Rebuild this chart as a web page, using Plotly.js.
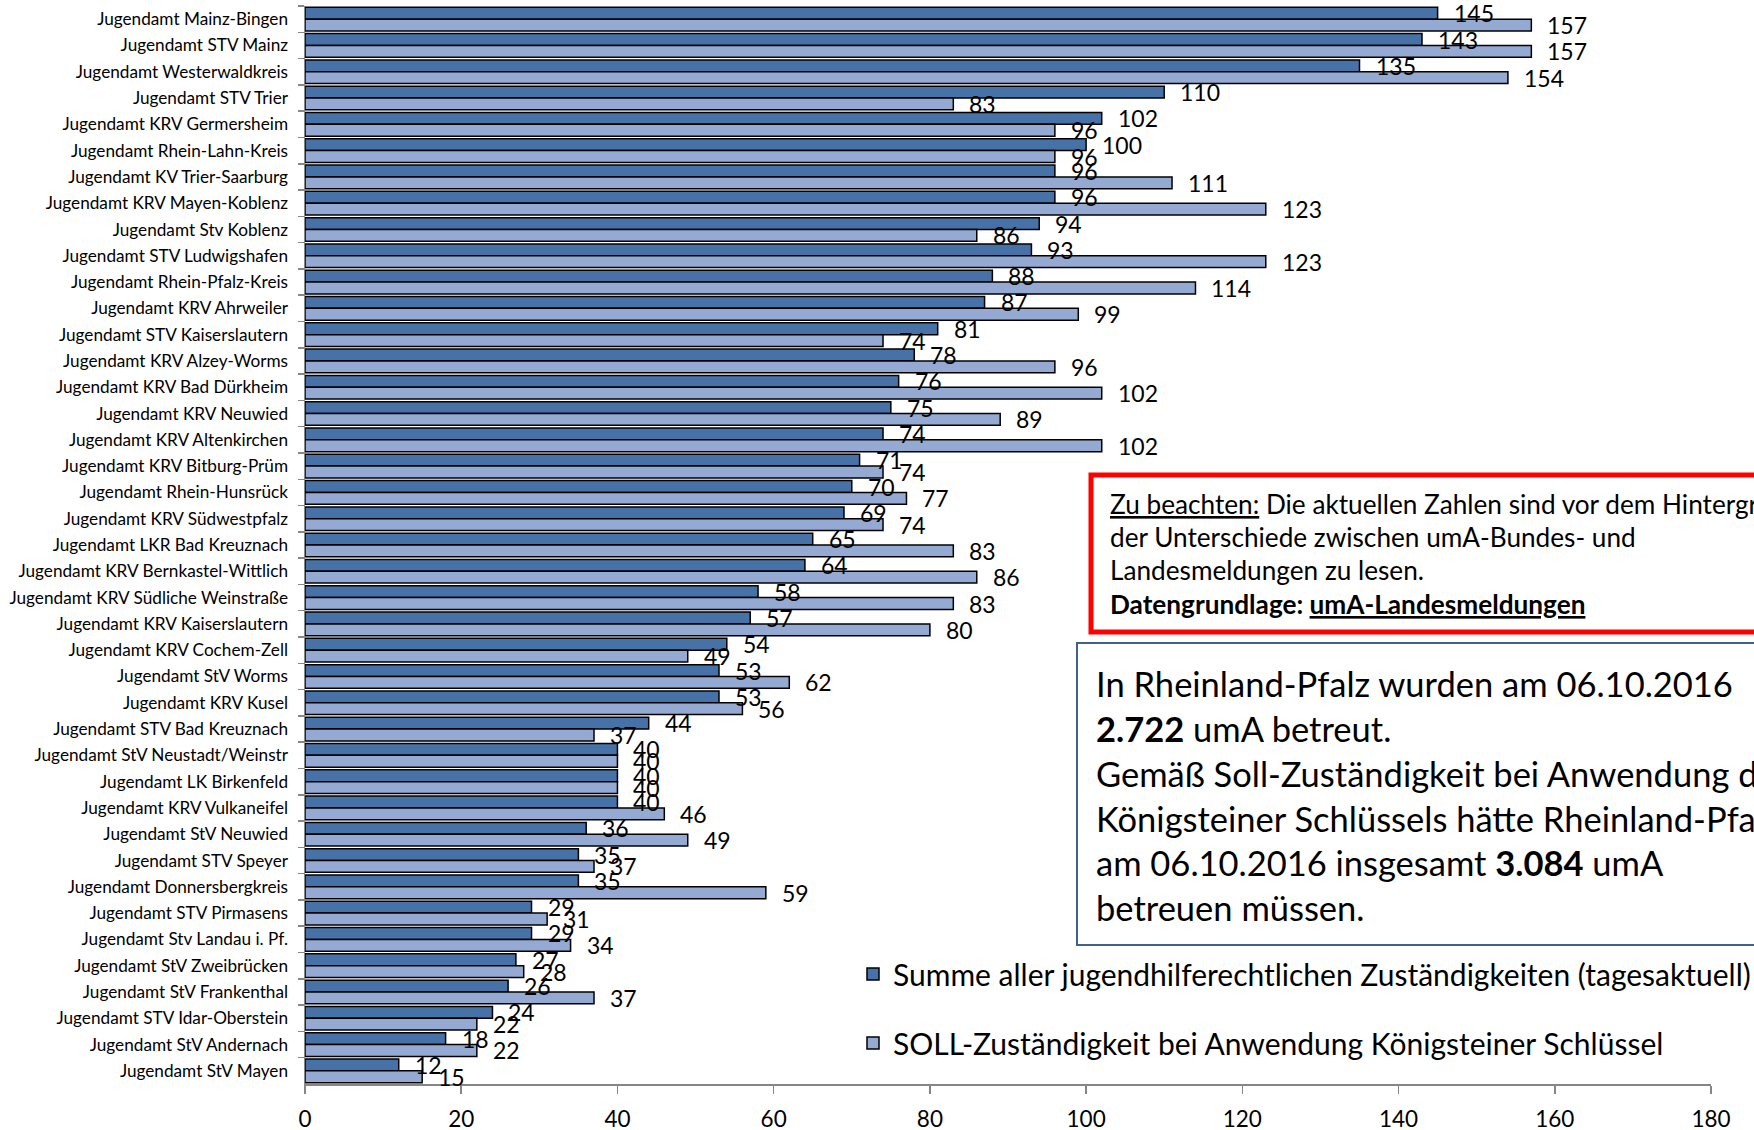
<!DOCTYPE html>
<html>
<head>
<meta charset="utf-8">
<script src="https://cdn.plot.ly/plotly-3.0.1.min.js"></script>
<style>html,body{margin:0;padding:0;background:#fff;}#chart{width:1754px;height:1130px;}</style>
</head>
<body>
<div id="chart"></div>
<script>
const categories = [
  "Jugendamt Mainz-Bingen","Jugendamt STV Mainz","Jugendamt Westerwaldkreis","Jugendamt STV Trier",
  "Jugendamt KRV Germersheim","Jugendamt Rhein-Lahn-Kreis","Jugendamt KV Trier-Saarburg","Jugendamt KRV Mayen-Koblenz",
  "Jugendamt Stv Koblenz","Jugendamt STV Ludwigshafen","Jugendamt Rhein-Pfalz-Kreis","Jugendamt KRV Ahrweiler",
  "Jugendamt STV Kaiserslautern","Jugendamt KRV Alzey-Worms","Jugendamt KRV Bad Dürkheim","Jugendamt KRV Neuwied",
  "Jugendamt KRV Altenkirchen","Jugendamt KRV Bitburg-Prüm","Jugendamt Rhein-Hunsrück","Jugendamt KRV Südwestpfalz",
  "Jugendamt LKR Bad Kreuznach","Jugendamt KRV Bernkastel-Wittlich","Jugendamt KRV Südliche Weinstraße","Jugendamt KRV Kaiserslautern",
  "Jugendamt KRV Cochem-Zell","Jugendamt StV Worms","Jugendamt KRV Kusel","Jugendamt STV Bad Kreuznach",
  "Jugendamt StV Neustadt/Weinstr","Jugendamt LK Birkenfeld","Jugendamt KRV Vulkaneifel","Jugendamt StV Neuwied",
  "Jugendamt STV Speyer","Jugendamt Donnersbergkreis","Jugendamt STV Pirmasens","Jugendamt Stv Landau i. Pf.",
  "Jugendamt StV Zweibrücken","Jugendamt StV Frankenthal","Jugendamt STV Idar-Oberstein","Jugendamt StV Andernach",
  "Jugendamt StV Mayen"
];
const summe = [145,143,135,110,102,100,96,96,94,93,88,87,81,78,76,75,74,71,70,69,65,64,58,57,54,53,53,44,40,40,40,36,35,35,29,29,27,26,24,18,12];
const soll  = [157,157,154,83,96,96,111,123,86,123,114,99,74,96,102,89,102,74,77,74,83,86,83,80,49,62,56,37,40,40,46,49,37,59,31,34,28,37,22,22,15];
const seriesNames = [
  "Summe aller jugendhilferechtlichen Zuständigkeiten (tagesaktuell)",
  "SOLL-Zuständigkeit bei Anwendung Königsteiner Schlüssel"
];
const xTicks = [0,20,40,60,80,100,120,140,160,180];
const noteLines = [
  "<u>Zu beachten:</u> Die aktuellen Zahlen sind vor dem Hintergrund",
  "der Unterschiede zwischen umA-Bundes- und",
  "Landesmeldungen zu lesen.",
  "<b>Datengrundlage: <u>umA-Landesmeldungen</u></b>"
];
const infoLines = [
  "In Rheinland-Pfalz wurden am 06.10.2016",
  "<b>2.722</b> umA betreut.",
  "Gemäß Soll-Zuständigkeit bei Anwendung des",
  "Königsteiner Schlüssels hätte Rheinland-Pfalz",
  "am 06.10.2016 insgesamt <b>3.084</b> umA",
  "betreuen müssen."
];

const W = 1754, H = 1130;
const M = {l: 305, r: 43, t: 6, b: 46};
const PW = W - M.l - M.r, PH = H - M.t - M.b;
const px2x = p => (p - M.l) / PW;
const px2y = p => (H - M.b - p) / PH;
const FONT = 'Lato, "Open Sans", sans-serif';

const traces = [
  {type:'bar', orientation:'h', name: seriesNames[0], y: categories, x: summe,
   marker:{color:'#4672A8', line:{color:'#000', width:1.5}}, legendgroup:'a'},
  {type:'bar', orientation:'h', name: seriesNames[1], y: categories, x: soll,
   marker:{color:'#95AAD2', line:{color:'#000', width:1.5}}, legendgroup:'b'}
];

const annotations = [];
const half = 0.225;
summe.forEach((v, i) => annotations.push({x: v, y: i - half, xref:'x', yref:'y', text: String(v),
  showarrow:false, xanchor:'left', yanchor:'middle', xshift: 14, font:{size:23, color:'#000', family:FONT}}));
soll.forEach((v, i) => annotations.push({x: v, y: i + half, xref:'x', yref:'y', text: String(v),
  showarrow:false, xanchor:'left', yanchor:'middle', xshift: 14, font:{size:23, color:'#000', family:FONT}}));

const noteY = [504, 537, 570, 604];
noteLines.forEach((t, i) => annotations.push({x: px2x(1108), y: px2y(noteY[i]), xref:'paper', yref:'paper',
  text: t, showarrow:false, xanchor:'left', yanchor:'middle', font:{size:26.2, color:'#000', family:FONT}}));
const infoY = [683, 728, 773, 818, 862, 907];
infoLines.forEach((t, i) => annotations.push({x: px2x(1094), y: px2y(infoY[i]), xref:'paper', yref:'paper',
  text: t, showarrow:false, xanchor:'left', yanchor:'middle', font:{size:34.5, color:'#000', family:FONT}}));

const shapes = [
  {type:'rect', xref:'paper', yref:'paper', x0: px2x(1091), x1: px2x(1800), y0: px2y(475), y1: px2y(632),
   line:{color:'#FF0000', width:5}, fillcolor:'#FFFFFF', layer:'above'},
  {type:'rect', xref:'paper', yref:'paper', x0: px2x(1077), x1: px2x(1800), y0: px2y(643), y1: px2y(945),
   line:{color:'#41608C', width:2}, fillcolor:'#FFFFFF', layer:'above'}
];

const layout = {
  width: W, height: H,
  margin: Object.assign({autoexpand:false}, M),
  paper_bgcolor:'#fff', plot_bgcolor:'#fff',
  font:{family: FONT, color:'#000'},
  barmode:'group', bargap:0.1, bargroupgap:0,
  showlegend:true,
  legend:{x: px2x(853), y: px2y(948), xanchor:'left', yanchor:'top', traceorder:'grouped', tracegroupgap: 27,
    font:{size:30, family:FONT, color:'#000'}, bgcolor:'rgba(0,0,0,0)'},
  xaxis:{range:[0,180], tickvals: xTicks, ticktext: xTicks.map(String), ticks:'outside', ticklen:8, tickwidth:1.5,
    tickcolor:'#868686', showline:true, linecolor:'#868686', linewidth:1.5, showgrid:false, zeroline:false,
    tickfont:{size:22.5, family:FONT, color:'#000'}, ticklabelstandoff: 6, fixedrange:true, automargin:false},
  yaxis:{type:'category', range:[categories.length - 0.5, -0.5], tickson:'boundaries', ticks:'outside', ticklen:6,
    tickwidth:1.5, tickcolor:'#868686', showline:true, linecolor:'#868686', linewidth:1.5, showgrid:false,
    zeroline:false, tickfont:{size:17.2, family:FONT, color:'#000'}, ticklabelstandoff: 12, fixedrange:true, automargin:false},
  annotations, shapes
};

Plotly.newPlot('chart', traces, layout, {displayModeBar:false, staticPlot:true});
</script>
</body>
</html>
